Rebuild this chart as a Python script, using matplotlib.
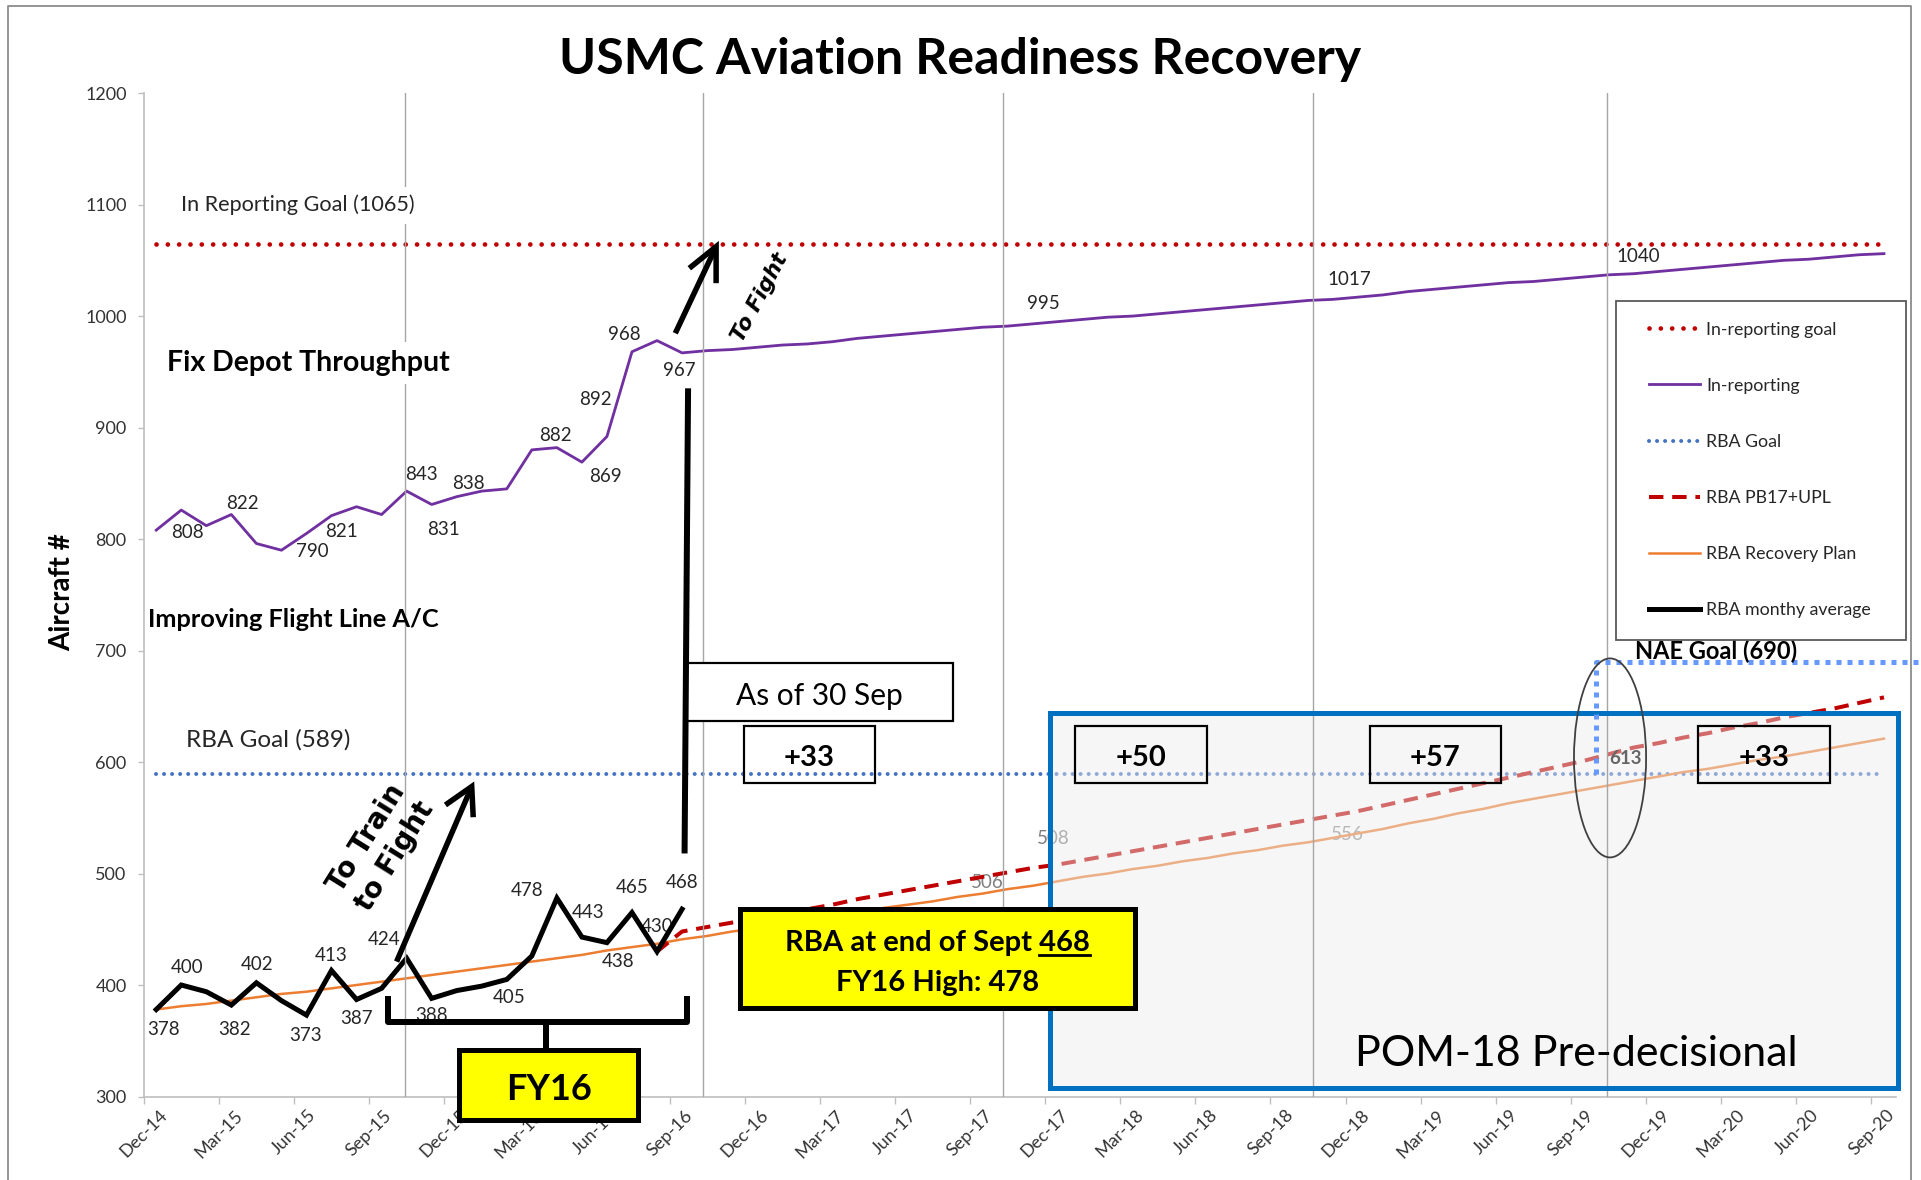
import matplotlib
matplotlib.use("Agg")
import matplotlib.pyplot as plt
from matplotlib.patches import Rectangle, Ellipse
from matplotlib.lines import Line2D
import numpy as np

# ---------------- data ----------------
x_tick_labels = ["Dec-14", "Mar-15", "Jun-15", "Sep-15", "Dec-15", "Mar-16", "Jun-16", "Sep-16",
                 "Dec-16", "Mar-17", "Jun-17", "Sep-17", "Dec-17", "Mar-18", "Jun-18", "Sep-18",
                 "Dec-18", "Mar-19", "Jun-19", "Sep-19", "Dec-19", "Mar-20", "Jun-20", "Sep-20"]
n_months = 70  # Dec-14 .. Sep-20

in_reporting = [808, 826, 812, 822, 796, 790, 805, 821, 829, 822, 843, 831, 838, 843, 845, 880,
                882, 869, 892, 968, 978, 967,
                969, 970, 972, 974, 975, 977, 980, 982, 984, 986, 988, 990, 991, 993, 995, 997,
                999, 1000, 1002, 1004, 1006, 1008, 1010, 1012, 1014, 1015, 1017, 1019, 1022, 1024,
                1026, 1028, 1030, 1031, 1033, 1035, 1037, 1038, 1040, 1042, 1044, 1046, 1048, 1050,
                1051, 1053, 1055, 1056]
rba_monthly = [378, 400, 394, 382, 402, 386, 373, 413, 387, 397, 424, 388, 395, 399, 405, 426,
               478, 443, 438, 465, 430, 468]
rba_plan = [378, 381, 383, 386, 389, 392, 394, 397, 400, 403,
            406, 409, 412, 415, 418, 421, 424, 427, 431, 434,
            437, 441, 444, 448, 451, 455, 458, 462, 465, 469,
            472, 475, 479, 482, 486, 489, 493, 497, 500, 504,
            507, 511, 514, 518, 521, 525, 528, 532, 536, 540,
            545, 549, 554, 558, 563, 567, 571, 575, 579, 583,
            587, 591, 594, 598, 602, 605, 609, 613, 617, 621]
pb17_start = 20
rba_pb17 = [430, 448, 452, 456, 460, 464, 468, 472, 477, 481,
            485, 489, 493, 497, 501, 505, 508, 512, 516, 520,
            524, 528, 532, 536, 540, 544, 548, 552, 556, 561,
            566, 571, 576, 581, 586, 591, 596, 601, 607, 613,
            617, 622, 626, 631, 635, 640, 644, 648, 653, 658]
in_reporting_goal = 1065
rba_goal = 589
nae_goal = 690

purple_label_idx = [0, 3, 5, 7, 10, 11, 12, 16, 17, 18, 19, 21, 36, 48, 60]
black_label_idx = [0, 1, 3, 4, 6, 7, 8, 10, 11, 14, 16, 17, 18, 19, 20, 21]
pb17_label_idx = [36, 48, 59]
legend_labels = ["In-reporting goal", "In-reporting", "RBA Goal", "RBA PB17+UPL",
                 "RBA Recovery Plan", "RBA monthy average"]
delta_labels = ["+33", "+50", "+57", "+33"]

# ---------------- layout / style ----------------
W, H, DPI = 1921, 1180, 100
def pt(px):
    return px * 72.0 / DPI

plt.rcParams["font.family"] = ["Lato", "DejaVu Sans"]
TXT = "#262626"
FS_LAB = 13.5

purple_off = [(31, -2), (11, 11), (31, -1), (10, -16), (15, 17), (12, -25), (12, 13),
              (-1, 12), (24, -14), (-12, 37), (-8, 17), (-3, -18), (-14, 18), (-9, 18), (-20, 15)]
black_off = [(7, -20), (6, 18), (3, -24), (1, 18), (-1, -20), (0, 15), (0, -19), (-23, 19),
             (0, -17), (2, -18), (-30, 8), (6, 25), (11, -19), (0, 25), (0, 25), (0, 27)]
pb17_off = [(-4, 26), (-11, -23), (-8, -11)]
pb17_z = [2.4, 2.4, 5]
pb17_col = ["#7f7f7f", "#8c8c8c", "#666666"]

fig = plt.figure(figsize=(W / DPI, H / DPI), dpi=DPI)
fig.patch.set_facecolor("white")
ax = fig.add_axes([143.7 / W, 1 - 1096.5 / H, (1896.5 - 143.7) / W, (1096.5 - 93.1) / H])
ax.set_xlim(0, n_months)
ax.set_ylim(300, 1200)
ax.set_facecolor("none")

xm = np.arange(n_months) + 0.5

# gridlines (fiscal year markers)
for m in [10.45, 22.35, 34.3, 46.7, 58.45]:
    ax.axvline(m, color="#a6a6a6", lw=1.0, zorder=4.5)

# series
l_goal, = ax.plot(xm, np.full(n_months, in_reporting_goal), color="#C00000", lw=pt(4.7),
                  linestyle=(0, (0.01, 2.4)), dash_capstyle="round", zorder=2)
l_inrep, = ax.plot(xm, in_reporting, color="#7030A0", lw=pt(2.8), zorder=3)
l_rbagoal, = ax.plot(xm, np.full(n_months, rba_goal), color="#4472C4", lw=pt(4.0),
                     linestyle=(0, (0.01, 2.0)), dash_capstyle="round", zorder=2)
l_pb17, = ax.plot(xm[pb17_start:], rba_pb17, color="#C00000", lw=pt(4.0),
                  linestyle=(0, (3.6, 2.2)), zorder=2.6)
l_plan, = ax.plot(xm, rba_plan, color="#ED7D31", lw=pt(2.5), zorder=2.5)
l_rba, = ax.plot(xm[:len(rba_monthly)], rba_monthly, color="black", lw=pt(5.0),
                 solid_joinstyle="miter", zorder=3)

# data labels
for i, (dx, dy) in zip(purple_label_idx, purple_off):
    ax.annotate(str(in_reporting[i]), (xm[i], in_reporting[i]), xytext=(dx, dy),
                textcoords="offset pixels", ha="center", va="center", fontsize=FS_LAB,
                color=TXT, zorder=2.4)
for i, (dx, dy) in zip(black_label_idx, black_off):
    ax.annotate(str(rba_monthly[i]), (xm[i], rba_monthly[i]), xytext=(dx, dy),
                textcoords="offset pixels", ha="center", va="center", fontsize=FS_LAB,
                color=TXT, zorder=2.4)
for i, (dx, dy), z, c in zip(pb17_label_idx, pb17_off, pb17_z, pb17_col):
    v = rba_pb17[i - pb17_start]
    ax.annotate(str(v), (xm[i], v), xytext=(dx, dy), textcoords="offset pixels",
                ha="center", va="center", fontsize=FS_LAB, color=c, zorder=z,
                weight="bold" if z > 3 else "normal")
ax.annotate("506", (xm[34], rba_pb17[34 - pb17_start]), xytext=(-20, -10),
            textcoords="offset pixels", ha="center", va="center", fontsize=FS_LAB,
            color="#7f7f7f", zorder=2.4)

# POM-18 box: translucent overlay + blue frame
ax.add_patch(Rectangle((36.21, 307.4), 70.06 - 36.21, 644.3 - 307.4, facecolor="#ececec",
                       alpha=0.45, edgecolor="none", zorder=4, clip_on=False))
ax.add_patch(Rectangle((36.21, 307.4), 70.06 - 36.21, 644.3 - 307.4, fill=False,
                       edgecolor="#0070C0", lw=pt(5), zorder=6, clip_on=False))
ax.text(57.2, 338.5, "POM-18 Pre-decisional", ha="center", va="center", fontsize=31,
        color="black", zorder=7)

# NAE goal marker
ax.plot([58.0, 58.0, 71.2], [rba_goal, nae_goal, nae_goal], color="#6699FF", lw=pt(5),
        linestyle=(0, (1, 1.2)), clip_on=False, zorder=6)
ax.text(59.56, 699, "NAE Goal (690)", ha="left", va="center", fontsize=17, weight="bold",
        color="black", zorder=7)
ax.add_patch(Ellipse((58.56, 603.7), 2.88, 178.5, fill=False, edgecolor="#404040",
                     lw=1.3, zorder=6))

# delta boxes
for lab, x0, x1 in zip(delta_labels, [23.96, 37.21, 48.96, 62.09], [29.19, 42.45, 54.21, 67.35]):
    ax.add_patch(Rectangle((x0, 581.3), x1 - x0, 632.7 - 581.3, fill=False,
                           edgecolor="black", lw=pt(2.2), zorder=7))
    ax.text((x0 + x1) / 2, 603.5, lab, ha="center", va="center", fontsize=21,
            weight="bold", color="black", zorder=7)

# As of 30 Sep box + vertical line
ax.add_patch(Rectangle((21.65, 637.1), 32.31 - 21.65, 688.6 - 637.1, facecolor="white",
                       edgecolor="black", lw=pt(2.2), zorder=7))
ax.text(27.0, 659.5, "As of 30 Sep", ha="center", va="center", fontsize=21.5,
        color="black", zorder=7.5)
ax.plot([21.74, 21.6], [935.2, 518.0], color="black", lw=pt(6), solid_capstyle="butt",
        zorder=8)

# text annotations
bb_white = dict(facecolor="white", edgecolor="none", pad=6)
ax.text(1.48, 1099.6, "In Reporting Goal (1065)", ha="left", va="center", fontsize=15.6,
        color=TXT, zorder=4.6, bbox=bb_white)
ax.text(0.95, 957.7, "Fix Depot Throughput", ha="left", va="center", fontsize=20.5,
        weight="bold", color="black", zorder=4.6, bbox=bb_white)
ax.text(0.16, 728, "Improving Flight Line A/C", ha="left", va="center", fontsize=18.3,
        weight="bold", color="black", zorder=4.6)
ax.text(1.69, 619.8, "RBA Goal (589)", ha="left", va="center", fontsize=17.5,
        color=TXT, zorder=4.6)

# arrows
arrow_kw = dict(color="black", lw=pt(5.5), solid_capstyle="butt", solid_joinstyle="miter",
                clip_on=False, zorder=8)
ax.plot([10.1, 13.1], [421, 578], **arrow_kw)
ax.plot([12.05, 13.1, 13.16], [561.5, 578, 550.5], **arrow_kw)
ax.plot([21.23, 22.86], [984.6, 1062.3], **arrow_kw)
ax.plot([21.79, 22.86, 22.86], [1042.9, 1062.3, 1029.5], **arrow_kw)
ax.text(9.46, 523.4, "To Train\nto Fight", rotation=58, rotation_mode="anchor",
        ha="center", va="center", multialignment="center", fontsize=20,
        family="DejaVu Sans", weight="bold", linespacing=1.25, zorder=8)
ax.text(24.6, 1016.7, "To Fight", rotation=62, rotation_mode="anchor", ha="center",
        va="center", fontsize=15.5, family="DejaVu Sans", weight="bold", style="italic",
        zorder=8)

# FY16 bracket and box
ax.plot([9.77, 9.77, 21.69, 21.69], [390.2, 367.2, 367.2, 390.2], color="black", lw=pt(6),
        solid_joinstyle="round", solid_capstyle="butt", clip_on=False, zorder=8)
ax.plot([16.07, 16.07], [367.2, 341.8], color="black", lw=pt(6), clip_on=False, zorder=8)
ax.add_patch(Rectangle((12.6, 279.1), 19.75 - 12.6, 341.8 - 279.1, facecolor="#FFFF00",
                       edgecolor="black", lw=pt(5), clip_on=False, zorder=9))
ax.text(16.17, 306.0, "FY16", ha="center", va="center", fontsize=26, weight="bold",
        color="black", zorder=9.5, clip_on=False)

# RBA yellow box
ax.add_patch(Rectangle((23.83, 379.2), 39.57 - 23.83, 467.9 - 379.2, facecolor="#FFFF00",
                       edgecolor="black", lw=pt(5), zorder=9))
FS_Y = 21
t1 = ax.text(31.7, 430.8, "RBA at end of Sept 468", ha="center", va="baseline",
             fontsize=FS_Y, weight="bold", color="black", zorder=9.5)
ax.text(31.7, 395.0, "FY16 High: 478", ha="center", va="baseline", fontsize=FS_Y,
        weight="bold", color="black", zorder=9.5)

# axes styling
for s in ["top", "right"]:
    ax.spines[s].set_visible(False)
for s in ["left", "bottom"]:
    ax.spines[s].set_color("#bfbfbf")
    ax.spines[s].set_linewidth(1.2)
    ax.spines[s].set_zorder(1)
ax.set_yticks(np.arange(300, 1201, 100))
ax.set_xticks(np.arange(0, n_months, 3))
ax.set_xticklabels(x_tick_labels, rotation=45, ha="center")
ax.tick_params(axis="y", length=pt(6), width=1, color="#bfbfbf", labelcolor="#333333",
               labelsize=13, pad=pt(11))
ax.tick_params(axis="x", length=pt(6.5), width=1, color="#bfbfbf", labelcolor="#333333",
               labelsize=13, pad=pt(4))

# titles
fig.text(960 / W, 1 - 60.0 / H, "USMC Aviation Readiness Recovery", ha="center",
         va="center", fontsize=36, weight="bold", color="black")
fig.text(62 / W, 1 - 591.7 / H, "Aircraft #", rotation=90, ha="center", va="center",
         fontsize=20, weight="bold", color="black")

# legend with separate frame
fig.add_artist(Rectangle((1615.6 / W, 1 - 640 / H), (1905.7 - 1615.6) / W, (640 - 301) / H,
                         transform=fig.transFigure, facecolor="white", edgecolor="#595959",
                         lw=1.3, zorder=10))
fs_leg = 12.8
fs_px = fs_leg * DPI / 72
leg = fig.legend([l_goal, l_inrep, l_rbagoal, l_pb17, l_plan, l_rba], legend_labels,
                 loc="upper left", bbox_to_anchor=(1648.5 / W, 1 - 321.5 / H),
                 bbox_transform=fig.transFigure, frameon=False, borderpad=0,
                 borderaxespad=0, handlelength=51.5 / fs_px, handletextpad=6.5 / fs_px,
                 labelspacing=(56.5 - 1.2 * fs_px + 5.0) / fs_px, fontsize=fs_leg)
leg.set_zorder(11)
for t in leg.get_texts():
    t.set_color(TXT)

# outer frame of the slide image
fig.add_artist(Line2D([8 / W, 8 / W, 1911 / W, 1911 / W], [0, 1 - 6 / H, 1 - 6 / H, 0],
                      transform=fig.transFigure, color="#8c8c8c", lw=1.3))

# underline under "468"
fig.canvas.draw()
r = fig.canvas.get_renderer()
bb1 = t1.get_window_extent(r)
tmp = ax.text(0, 0, "468", fontsize=FS_Y, weight="bold")
bb2 = tmp.get_window_extent(r)
tmp.remove()
base_y = ax.transData.transform((31.7, 430.8))[1] - 4
fig.add_artist(Line2D([(bb1.x1 - bb2.width) / W, bb1.x1 / W], [base_y / H, base_y / H],
                      transform=fig.transFigure, color="black", lw=2.0, zorder=12))

fig.savefig("out.png", dpi=DPI, facecolor="white")
